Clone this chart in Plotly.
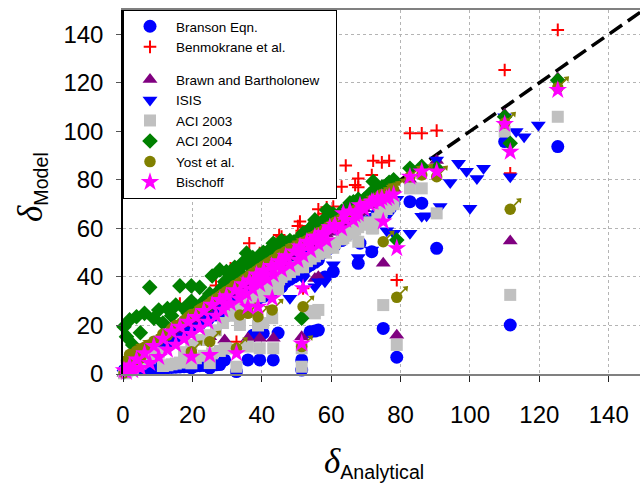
import plotly.graph_objects as go

# Analytical deflection of each specimen and the deflection predicted by each model
delta_analytical = [
    0.3, 1.0, 1.9, 2.8, 3.9, 5.0, 6.2, 7.7, 8.9, 10.3,
    11.5, 12.8, 14.0, 15.2, 16.4, 17.6, 18.8, 19.7, 21.0, 22.1,
    23.3, 24.5, 25.7, 26.8, 27.9, 28.8, 29.8, 31.0, 32.2, 33.5,
    34.6, 35.6, 36.4, 37.4, 38.5, 39.4, 40.5, 41.6, 42.8, 43.3,
    45.0, 45.7, 46.9, 48.1, 49.3, 50.4, 51.0, 51.9, 53.0, 54.1,
    55.3, 56.3, 57.7, 58.7, 59.6, 61.1, 63.0, 63.5, 64.2, 65.4,
    66.4, 66.9, 67.8, 68.3, 69.5, 71.0, 72.1, 73.3, 74.1, 74.6,
    76.0, 76.7, 78.0,
    19.7, 25.0, 29.3, 32.7, 33.7, 36.0, 37.5, 38.9, 39.4, 40.4,
    43.0, 43.3, 44.7, 45.7, 51.5, 51.5, 51.9, 53.9, 55.3, 56.3,
    58.2, 60.6, 67.8, 71.7, 75.0, 78.9, 82.7, 86.1, 90.4, 110.0,
    111.6, 125.3,
    94.3, 96.7, 99.0, 102.0, 103.9, 100.0, 87.5, 91.4, 113.3, 115.6, 119.7,
]

branson = [
    1.5, 1.6, 1.7, 1.8, 1.9, 2.0, 2.1, 2.2, 2.3, 2.4,
    2.5, 2.6, 2.7, 2.8, 2.9, 3.0, 3.1, 3.2, 3.3, 3.4,
    3.5, 3.6, 3.7, 3.8, 3.9, 29.0, 24.0, 26.0, 25.0, 28.0,
    27.0, 30.0, 29.0, 45.0, 31.0, 33.0, 32.0, 35.0, 34.0, 36.0,
    37.5, 36.0, 38.0, 39.0, 40.0, 41.0, 42.0, 48.4, 44.0, 45.0,
    46.0, 47.0, 50.0, 51.0, 52.0, 53.0, 55.0, 56.6, 57.0, 58.0,
    59.0, 60.0, 61.0, 53.9, 62.0, 63.0, 64.0, 66.0, 75.2, 67.0,
    68.0, 69.0, 70.0,
    2.5, 2.5, 5.8, 1.0, 27.0, 5.8, 16.0, 31.0, 5.8, 16.8,
    34.0, 5.8, 16.9, 36.0, 1.6, 5.8, 41.0, 17.4, 17.7, 18.1,
    40.0, 42.2, 45.6, 50.4, 18.8, 6.9, 71.0, 70.4, 51.8, 95.8,
    20.2, 93.7,
] + [None] * 11

benmokrane = [
    19.5, 15.4, 22.3, 12.0, 23.6, 17.0, 25.0, 35.7, 23.0, 26.4,
    21.0, 27.0, 24.0, 28.4, 29.0, 27.0, 25.0, 36.3, 28.0, 35.7,
    30.0, 28.0, 40.4, 36.5, 42.9, 36.0, 42.2, 43.6, 44.0, 42.0,
    46.0, 49.8, 53.9, 48.0, 45.0, 49.8, 50.0, 48.0, 52.0, 53.9,
    57.3, 56.6, 54.0, 55.0, 54.5, 61.0, 62.8, 57.0, 58.0, 58.5,
    63.5, 67.9, 62.0, 68.7, 65.5, 64.0, 77.2, 66.0, 85.9, 70.5,
    71.0, 77.9, 80.6, 70.5, 72.0, 74.0, 87.9, 76.0, 75.0, 87.2,
    78.0, 87.9, 80.0,
    22.0, 28.0, 33.0, 13.3, 38.0, 41.0, 43.0, 44.0, 45.0, 46.0,
    49.0, 50.0, 51.0, 52.0, 58.0, 59.0, 35.3, 61.0, 63.0, 64.0,
    66.0, 69.0, 77.0, 82.0, 66.9, 38.7, 99.2, 99.2, 100.3, 125.3,
    82.7, 141.8,
] + [None] * 11

brawn = [
    0.3, 1.0, 1.9, 2.7, 3.8, 4.9, 6.1, 7.5, 8.7, 10.1,
    11.3, 12.5, 13.7, 14.9, 16.1, 17.2, 18.4, 19.3, 20.6, 21.7,
    22.8, 24.0, 25.2, 26.3, 27.3, 28.2, 29.2, 30.4, 31.6, 32.8,
    33.9, 34.9, 35.7, 36.7, 37.7, 38.6, 39.7, 40.8, 41.9, 42.4,
    44.1, 44.8, 46.0, 47.1, 48.3, 49.4, 50.0, 50.9, 51.9, 53.0,
    54.2, 55.2, 56.5, 57.5, 58.4, 59.9, 61.7, 62.2, 62.9, 64.1,
    65.1, 65.6, 66.4, 66.9, 68.1, 69.6, 70.7, 71.8, 72.6, 73.1,
    74.5, 75.2, 76.4,
    19.5, 15.4, 14.0, 32.0, 33.0, 14.7, 37.0, 38.0, 14.7, 32.6,
    42.0, 14.7, 44.0, 45.0, 50.0, 15.4, 51.0, 53.0, 39.4, 40.1,
    57.0, 59.0, 66.0, 70.0, 45.6, 16.0, 80.0, 86.0, 88.0, 107.0,
    54.8, 122.0,
] + [None] * 11

isis = [
    0.3, 0.9, 1.7, 2.5, 3.5, 4.5, 5.6, 6.9, 8.0, 9.3,
    10.4, 11.5, 12.6, 13.7, 14.8, 15.8, 16.9, 17.7, 18.9, 19.9,
    21.0, 22.0, 23.1, 24.1, 25.1, 25.9, 26.8, 27.9, 29.0, 30.2,
    31.1, 32.0, 32.8, 33.7, 34.7, 35.5, 36.5, 37.4, 38.5, 39.0,
    40.5, 41.1, 42.2, 31.2, 44.4, 45.4, 45.9, 46.7, 47.7, 48.7,
    49.8, 50.7, 51.9, 52.8, 53.6, 55.0, 56.7, 57.2, 57.8, 58.9,
    59.8, 60.2, 61.0, 61.5, 62.6, 63.9, 64.9, 66.0, 66.7, 67.1,
    59.0, 66.0, 58.0,
    18.0, 23.0, 27.0, 30.0, 31.0, 33.0, 34.5, 36.0, 36.0, 37.0,
    39.5, 40.0, 41.0, 42.0, 47.0, 47.5, 39.4, 49.5, 36.0, 38.0,
    38.0, 45.0, 48.0, 51.1, 69.0, 72.0, 58.0, 65.0, 88.2, 106.0,
    81.3, 120.0,
    78.9, 86.8, 83.6, 80.6, 84.8, 68.3, 65.2, 69.0, 99.9, 97.8, 102.6,
]

aci_2003 = [
    0.3, 0.9, 1.6, 2.4, 3.3, 4.3, 5.3, 6.5, 7.6, 8.8,
    3.3, 3.6, 4.0, 4.3, 4.7, 9.0, 5.5, 12.0, 6.5, 14.0,
    7.5, 16.0, 8.5, 18.0, 9.5, 21.0, 10.5, 24.0, 27.0, 26.0,
    29.0, 28.0, 31.0, 30.0, 33.0, 32.0, 35.0, 34.0, 37.0, 36.0,
    39.0, 40.0, 41.0, 42.0, 43.0, 44.0, 45.0, 46.0, 46.5, 47.5,
    48.5, 49.5, 51.0, 52.0, 53.0, 54.0, 55.5, 56.0, 57.0, 58.0,
    59.0, 59.5, 60.5, 62.0, 61.5, 62.5, 60.0, 64.0, 66.0, 67.0,
    68.0, 69.0, 70.0,
    4.4, 4.5, 10.6, 3.0, 20.2, 11.3, 28.0, 20.0, 10.6, 21.0,
    23.0, 10.6, 35.0, 40.8, 3.0, 10.6, 44.0, 26.0, 25.0, 26.4,
    50.0, 52.0, 54.5, 60.0, 28.4, 12.0, 76.5, 76.5, 66.2, 99.9,
    32.6, 106.0,
] + [None] * 11

aci_2004 = [
    19.5, 15.4, 22.3, 12.0, 23.6, 17.0, 25.0, 35.7, 23.0, 26.4,
    21.0, 27.0, 24.0, 28.4, 36.3, 27.0, 25.0, 36.3, 28.0, 35.7,
    30.0, 28.0, 40.4, 33.0, 42.9, 36.0, 42.2, 40.0, 44.0, 42.0,
    46.0, 49.8, 46.0, 48.0, 45.0, 46.0, 50.0, 48.0, 52.0, 53.9,
    52.0, 53.0, 54.0, 55.0, 54.5, 53.9, 56.0, 57.0, 58.0, 58.5,
    63.5, 60.0, 62.0, 67.6, 65.5, 64.0, 67.0, 66.0, 68.0, 70.5,
    71.0, 69.0, 70.0, 70.5, 72.0, 74.0, 79.3, 76.0, 75.0, 77.0,
    78.0, 79.0, 80.0,
    30.0, 33.0, 38.0, 41.0, 44.0, 45.0, 47.0, 48.0, 49.0, 50.0,
    52.0, 51.0, 53.0, 55.0, 57.0, 23.0, 58.0, 60.0, 62.0, 61.0,
    64.0, 66.0, 72.0, 75.0, 77.0, 55.2, 84.8, 85.5, 84.8, 106.0,
    95.1, 121.0,
] + [None] * 11

yost = [
    0.4, 5.5, 8.0, 3.5, 9.5, 6.5, 11.0, 12.0, 13.5, 14.0,
    16.5, 16.0, 18.5, 20.0, 20.5, 22.0, 23.5, 24.5, 25.0, 26.5,
    27.5, 28.5, 30.0, 31.0, 32.0, 33.0, 34.0, 35.0, 36.5, 37.5,
    38.5, 39.5, 40.5, 41.5, 42.5, 43.5, 44.5, 45.5, 46.5, 47.0,
    49.0, 49.5, 50.5, 51.5, 52.0, 52.5, 53.0, 54.0, 55.0, 56.0,
    57.0, 58.0, 59.0, 60.0, 61.0, 62.5, 64.0, 64.5, 65.0, 66.0,
    67.0, 67.5, 68.0, 69.0, 69.5, 70.5, 71.5, 72.5, 73.5, 74.0,
    74.5, 75.0, 76.0,
    9.2, 13.3, 33.0, 10.6, 24.3, 25.0, 41.0, 23.6, 43.0, 44.0,
    26.4, 47.0, 48.0, 49.0, 54.0, 11.3, 27.7, 56.0, 57.0, 58.0,
    59.0, 61.0, 67.0, 71.0, 54.5, 31.6, 81.3, 82.0, 81.3, 103.4,
    67.9, 118.0,
] + [None] * 11

bischoff = [
    1.5, 0.8, 3.5, 1.5, 6.0, 2.5, 8.5, 4.5, 11.5, 7.0,
    14.5, 10.0, 17.5, 12.0, 19.5, 14.5, 21.5, 16.5, 23.5, 19.0,
    26.0, 21.5, 28.5, 24.0, 30.5, 26.5, 32.0, 29.0, 34.5, 31.0,
    37.0, 33.0, 38.5, 35.0, 41.0, 37.0, 42.5, 39.0, 44.5, 41.0,
    46.5, 43.0, 48.5, 45.0, 50.5, 47.0, 52.5, 49.0, 54.5, 51.0,
    56.5, 53.5, 58.0, 55.0, 60.5, 61.4, 60.0, 66.2, 63.5, 67.0,
    63.5, 65.5, 66.0, 69.5, 68.0, 70.0, 71.0, 72.0, 71.0, 72.5,
    72.4, 73.0, 74.0,
    7.1, 7.8, 29.0, 8.5, 34.0, 27.7, 38.0, 27.7, 40.0, 41.0,
    31.2, 43.0, 45.0, 46.0, 51.0, 12.6, 35.3, 54.0, 55.0, 56.5,
    58.0, 60.0, 67.0, 71.0, 62.8, 51.8, 81.3, 83.4, 83.4, 103.0,
    91.6, 117.0,
] + [None] * 11

# Line of perfect agreement
equality_line = [0, 150]

axis_ticks = [0, 20, 40, 60, 80, 100, 120, 140]

FONT = "Arial, 'Liberation Sans', sans-serif"
OLIVE = "#808000"

fig = go.Figure()

fig.add_trace(go.Scatter(
    x=equality_line, y=equality_line, mode="lines",
    line=dict(color="black", width=3.5, dash="15px,7px"),
    showlegend=False, hoverinfo="skip",
))


def add_series(name, values, symbol, color, size, group, line=None):
    marker = dict(symbol=symbol, color=color, size=size,
                  line=line or dict(width=0))
    fig.add_trace(go.Scatter(
        x=delta_analytical, y=values, mode="markers", name=name,
        marker=marker, legendgroup=group, cliponaxis=False,
    ))


add_series("Branson Eqn.", branson, "circle", "#0000FF", 13, "g1")
add_series("Benmokrane et al.", benmokrane, "cross-thin", "#FF0000", 9, "g1",
           line=dict(color="#FF0000", width=2))
add_series("Brawn and Bartholonew\u00a0\u00a0\u00a0", brawn, "triangle-up",
           "#800080", 13, "g2")
add_series("ISIS", isis, "triangle-down", "#0000FF", 13, "g2")
add_series("ACI 2003", aci_2003, "square", "#C0C0C0", 12, "g2")
add_series("ACI 2004", aci_2004, "diamond", "#008000", 12, "g2")

# Yost et al.: filled circle with an arrow pointing up and to the right
fig.add_trace(go.Scatter(
    x=delta_analytical, y=yost, mode="markers", name="Yost et al.",
    marker=dict(symbol="circle", color=OLIVE, size=11.5, line=dict(width=0)),
    legendgroup="g2", cliponaxis=False,
))
fig.add_trace(go.Scatter(
    x=delta_analytical, y=yost, mode="markers", showlegend=False,
    hoverinfo="skip", legendgroup="g2", cliponaxis=False,
    marker=dict(symbol="line-ns", size=5, angle=225, standoff=9,
                line=dict(color=OLIVE, width=1.6)),
))
fig.add_trace(go.Scatter(
    x=delta_analytical, y=yost, mode="markers", showlegend=False,
    hoverinfo="skip", legendgroup="g2", cliponaxis=False,
    marker=dict(symbol="triangle-down", size=6, angle=225, standoff=13,
                color=OLIVE, line=dict(width=0)),
))

add_series("Bischoff", bischoff, "star", "#FF00FF", 14, "g2")

grid = dict(showgrid=True, gridcolor="#b4b4b4", griddash="dot", gridwidth=1,
            zeroline=False, tickvals=axis_ticks,
            tickfont=dict(family=FONT, size=24, color="black"))

fig.update_xaxes(range=[0, 149], showline=True, linecolor="#808080",
                 linewidth=1.5, mirror=True, ticks="outside", ticklen=6,
                 tickcolor="#222", tickwidth=1.2, ticklabelstandoff=12,
                 **grid)
fig.update_yaxes(range=[0, 150], showline=True, linecolor="black",
                 linewidth=1.5, ticks="outside", ticklen=5,
                 tickcolor="#555", tickwidth=1.2, ticklabelstandoff=8,
                 **grid)

delta = ("<span style=\"font-family:'Liberation Serif',serif;"
         "font-size:35px\"><i>δ</i></span>")
fig.add_annotation(text=delta + "<sub>Analytical</sub>", xref="paper",
                   yref="paper", x=0.485, y=-0.243, showarrow=False,
                   xanchor="center", yanchor="middle",
                   font=dict(family=FONT, size=28, color="black"))
fig.add_annotation(text=delta + "<sub>Model</sub>", xref="paper",
                   yref="paper", x=-0.176, y=0.514, showarrow=False,
                   textangle=-90, xanchor="center", yanchor="middle",
                   font=dict(family=FONT, size=28, color="black"))

fig.update_layout(
    width=640, height=489,
    margin=dict(l=123, r=0, t=10, b=115),
    paper_bgcolor="white", plot_bgcolor="white",
    showlegend=True,
    legend=dict(x=0, y=1, xanchor="left", yanchor="top",
                bgcolor="white", bordercolor="black", borderwidth=1,
                font=dict(family=FONT, size=13.5, color="black"),
                itemwidth=42, tracegroupgap=12, groupclick="toggleitem",
                itemsizing="trace"),
)

fig.write_html("out.html")
